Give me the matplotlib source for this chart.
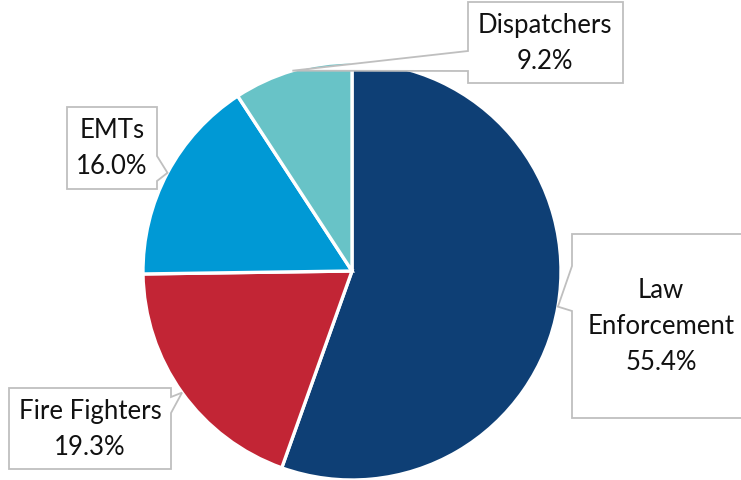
import matplotlib
matplotlib.use("Agg")
import matplotlib.pyplot as plt
from matplotlib.patches import Polygon
import numpy as np

# ---- data ----
categories = ["Law\nEnforcement", "Fire Fighters", "EMTs", "Dispatchers"]
values = [55.4, 19.3, 16.0, 9.2]
colors = ["#0E3F75", "#C22535", "#0099D5", "#68C3C7"]

# ---- layout (pixel coords, origin top-left) ----
W, H = 741, 481
CX, CY, R = 352, 272, 209
# box: (x0, y0, x1, y1), pointer side, pointer base (ya, yb)
boxes = [
    ((572, 235, 748, 419), "left", (267, 312)),
    ((9, 389, 171, 470), "right", (398, 414)),
    ((67, 108, 157, 190), "right", (157, 182)),
    ((468, 3, 623, 84), "left", (52, 72)),
]
text_x = [661, 90, 112, 545]

fig = plt.figure(figsize=(W / 100, H / 100), dpi=100)
ax = fig.add_axes([0, 0, 1, 1])

def fy(py):
    return H - py

wedges, _ = ax.pie(values, colors=colors, startangle=90, counterclock=False,
                   center=(CX, fy(CY)), radius=R,
                   wedgeprops=dict(edgecolor="white", linewidth=2.4))
ax.set_xlim(0, W)
ax.set_ylim(0, H)
ax.set_aspect("auto")
ax.axis("off")

for w, cat, val, (bx, side, (ya, yb)), tx in zip(wedges, categories, values, boxes, text_x):
    mid = np.deg2rad((w.theta1 + w.theta2) / 2)
    tipx = CX + R * np.cos(mid)
    tipy = fy(CY) + R * np.sin(mid)
    x0, y0, x1, y1 = bx
    if side == "left":
        pts = [(x0, fy(y0)), (x1, fy(y0)), (x1, fy(y1)), (x0, fy(y1)),
               (x0, fy(yb)), (tipx, tipy), (x0, fy(ya))]
    else:
        pts = [(x0, fy(y0)), (x1, fy(y0)), (x1, fy(ya)), (tipx, tipy),
               (x1, fy(yb)), (x1, fy(y1)), (x0, fy(y1))]
    poly = Polygon(pts, closed=True, facecolor="white", edgecolor="#BFBFBF",
                   linewidth=1.3, zorder=5, joinstyle="miter")
    ax.add_patch(poly)
    ax.text(tx, fy((y0 + y1) / 2), f"{cat}\n{val:.1f}%", ha="center", va="center",
            fontsize=18.5, family=["Lato", "DejaVu Sans"], color="#111111",
            linespacing=1.55, zorder=6)

fig.savefig("out.png", dpi=100)
